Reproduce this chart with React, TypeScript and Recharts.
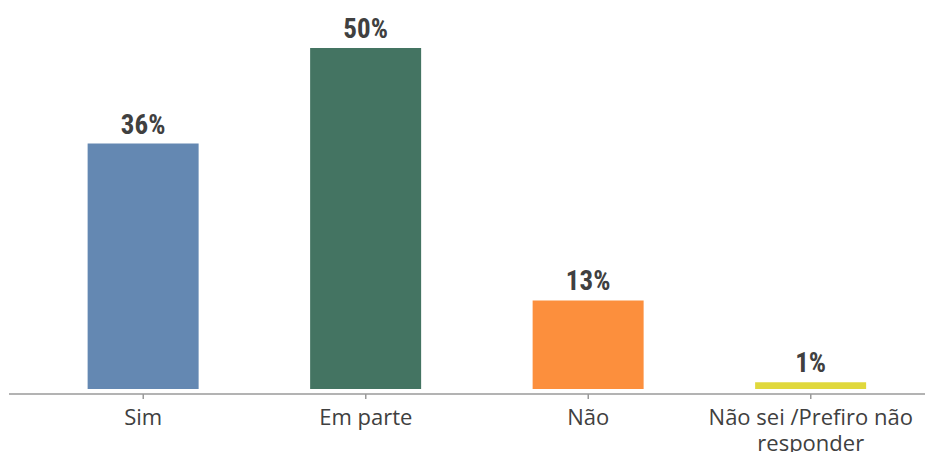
import React from 'react';
import { BarChart, Bar, XAxis, YAxis, Cell, LabelList } from 'recharts';

const categories = ['Sim', 'Em parte', 'Não', 'Não sei /Prefiro não responder'];
const values = [36, 50, 13, 1];
const valueLabels = ['36%', '50%', '13%', '1%'];
const tickLines: string[][] = [['Sim'], ['Em parte'], ['Não'], ['Não sei /Prefiro não', 'responder']];
const colors = ['#6488B2', '#447462', '#FC8F3D', '#E0D83C'];

const data = categories.map((c, i) => ({ name: c, value: values[i], label: valueLabels[i], idx: i }));

const CategoryTick = (props: any) => {
  const { x, payload } = props;
  const lines = tickLines[payload.index] || [payload.value];
  return (
    <text
      x={x}
      y={425}
      textAnchor="middle"
      fill="#404040"
      style={{ fontFamily: '"Open Sans", "Noto Sans", sans-serif', fontSize: 22 }}
    >
      {lines.map((l, i) => (
        <tspan key={i} x={x} dy={i === 0 ? 0 : 26}>
          {l}
        </tspan>
      ))}
    </text>
  );
};

const ValueLabel = (props: any) => {
  const { x, y, width, index } = props;
  return (
    <text
      x={x + width / 2}
      y={y - 10}
      textAnchor="middle"
      fill="#404040"
      style={{ fontFamily: '"Liberation Sans Narrow", "Arial Narrow", "Roboto Condensed", sans-serif', fontSize: 27, fontWeight: 'bold' }}
    >
      {valueLabels[index]}
    </text>
  );
};

export default function App() {
  return (
    <div style={{ margin: -8, width: 933, height: 460, background: '#fff' }}>
      <BarChart
        width={933}
        height={460}
        data={data}
        margin={{ top: 14, right: 2, bottom: 0, left: 9 }}
        barCategoryGap="25%"
      >
        <YAxis hide domain={[-0.73, 55]} />
        <XAxis
          dataKey="name"
          height={66}
          interval={0}
          padding={{ left: 23, right: 9 }}
          axisLine={{ stroke: '#9a9a9a', strokeWidth: 1.5 }}
          tickLine={{ stroke: '#9a9a9a', strokeWidth: 1.5 }}
          tickSize={5}
          tick={<CategoryTick />}
        />
        <Bar dataKey="value" isAnimationActive={false}>
          {data.map((d, i) => (
            <Cell key={i} fill={colors[i]} />
          ))}
          <LabelList dataKey="label" content={<ValueLabel />} />
        </Bar>
      </BarChart>
    </div>
  );
}
